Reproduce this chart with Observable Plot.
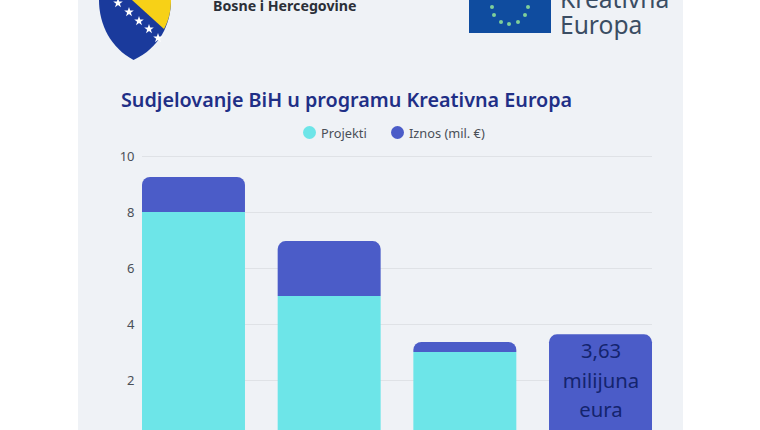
<!DOCTYPE html>
<html><head><meta charset="utf-8">
<script src="https://cdn.jsdelivr.net/npm/d3@7"></script>
<script src="https://cdn.jsdelivr.net/npm/@observablehq/plot@0.6"></script>
<style>
html,body{margin:0;padding:0;background:#fff;overflow:hidden;width:760px;height:430px}
#page{position:absolute;left:78px;top:0;width:605px;height:430px;background:#eff2f6}
#wrap{position:absolute;left:0;top:0;width:760px;height:430px;overflow:hidden;font-family:"Noto Sans",sans-serif}
.abs{position:absolute;white-space:nowrap}
#title{left:121px;top:86px;font-size:19.75px;font-weight:600;color:#1f2f86}
.leg{top:124px;font-size:12.8px;color:#4a4f57}
.dot{position:absolute;top:126px;width:13px;height:13px;border-radius:50%}
#bih{left:213px;top:-4px;font-size:14.2px;font-weight:700;color:#2b2f38}
#ke{left:560px;top:-14px;font-size:24.6px;line-height:26px;color:#3a4d63}
#chart{position:absolute;left:0;top:150px}
</style></head><body>
<div id="page"></div>
<div id="wrap">
<svg class="abs" style="left:97px;top:0" width="76" height="62" viewBox="0 0 76 62">
<defs><path id="s" d="M0-5 1.2-1.5 4.8-1.5 1.9.7 3 4.2 0 2.1-3 4.2-1.9.7-4.8-1.5-1.2-1.5Z" fill="#fff"/></defs>
<path d="M2 0H74C74 25 62 48 36.500 60C14 48 2 25 2 0Z" fill="#1a3a9c"/>
<path d="M35 0H74C74 10 72 20 67 29Z" fill="#f7d117"/>
<use href="#s" x="21" y="3"/><use href="#s" x="32" y="12"/><use href="#s" x="42" y="21"/><use href="#s" x="52" y="29"/><use href="#s" x="61" y="38"/>
</svg>
<div class="abs" id="bih">Bosne i Hercegovine</div>
<svg class="abs" style="left:469px;top:0" width="82" height="33" viewBox="0 0 82 33">
<rect width="82" height="33" fill="#0f4c9f"/>
<g fill="#7fcf9a"><circle cx="23" cy="7" r="2"/><circle cx="25" cy="15" r="2"/><circle cx="32" cy="22" r="2"/><circle cx="40" cy="24" r="2"/><circle cx="49" cy="22" r="2"/><circle cx="56" cy="15" r="2"/><circle cx="59" cy="7" r="2"/></g>
</svg>
<div class="abs" id="ke">Kreativna<br>Europa</div>
<div class="abs" id="title">Sudjelovanje BiH u programu Kreativna Europa</div>
<span class="dot" style="left:303px;background:#6de5e8"></span><div class="abs leg" style="left:321px">Projekti</div>
<span class="dot" style="left:391px;background:#4b5cc8"></span><div class="abs leg" style="left:409px">Iznos (mil. €)</div>
<div id="chart"></div>
</div>
<script>
const categories = ["A","B","C","D"];
const projekti = [8,5,3,0];
const iznos = [1.25,1.96,0.36,3.63];
const note = "3,63\nmilijuna\neura";
const yTicks = [2,4,6,8,10];
const series = ["Projekti","Iznos (mil. €)"];
const colors = ["#6de5e8","#4b5cc8"];

const rowsP = categories.map((c,i)=>({c,s:series[0],y1:0,y2:projekti[i]}));
const rowsI = categories.map((c,i)=>({c,s:series[1],y1:projekti[i],y2:projekti[i]+iznos[i]}));
const chart = Plot.plot({
  width:760,height:280,
  marginLeft:142,marginRight:108,marginTop:6,marginBottom:-6,
  style:{background:"transparent",fontFamily:'"Noto Sans",sans-serif',overflow:"visible"},
  x:{domain:categories,paddingInner:0.241,paddingOuter:0,round:false,axis:null},
  y:{domain:[0,10],axis:null},
  color:{domain:series,range:colors},
  marks:[
    Plot.ruleY(yTicks,{stroke:"#dfe2e6",strokeWidth:1.2}),
    Plot.axisY({ticks:yTicks,tickSize:0,tickPadding:8,fontSize:13,fill:"#4a4f57",label:null}),
    Plot.barY(rowsP.filter(d=>d.y2>0),{x:"c",y1:"y1",y2:"y2",fill:"s"}),
    Plot.barY(rowsI,{x:"c",y1:"y1",y2:"y2",fill:"s",ry1:8,rx1y1:8,rx2y1:8}),
    Plot.text([note],{x:()=>"D",y:()=>2.08,text:d=>d,fontSize:20.3,lineHeight:1.44,fill:"#14246e"})
  ]
});
document.getElementById("chart").append(chart);
</script>
</body></html>
